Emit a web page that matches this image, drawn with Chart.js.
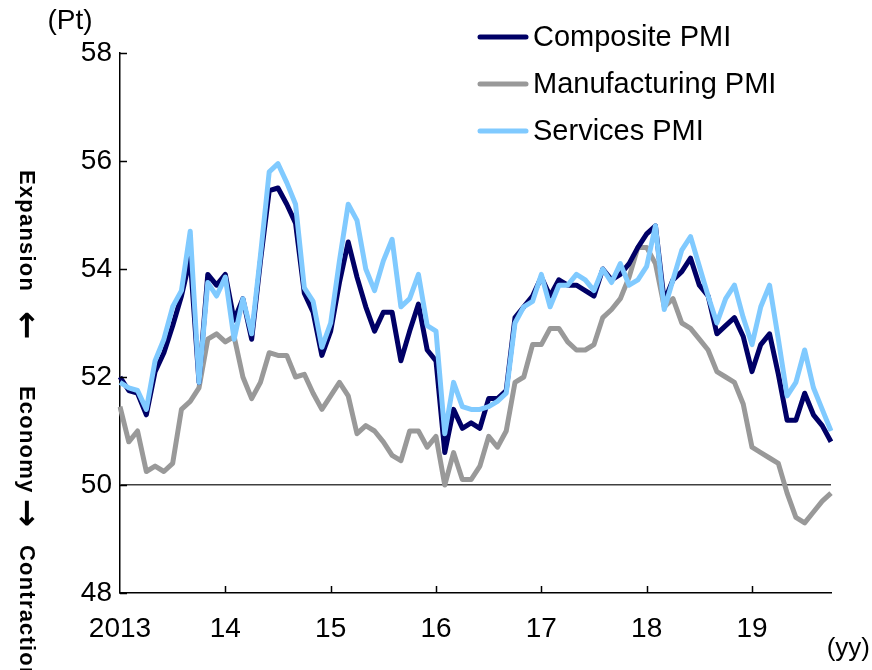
<!DOCTYPE html>
<html>
<head>
<meta charset="utf-8">
<script src="https://cdn.jsdelivr.net/npm/chart.js@4.4.0/dist/chart.umd.min.js"></script>
<style>
  html, body { margin: 0; padding: 0; background: #fff; }
  #wrap { width: 872px; height: 670px; }
</style>
</head>
<body>
<div id="wrap"><canvas id="grafico-pmi" width="872" height="670"></canvas></div>
<script>
// monthly, Jan 2013 .. Oct 2019
const years = ['2013', '14', '15', '16', '17', '18', '19'];
const yTicks = [48, 50, 52, 54, 56, 58];

const composite = [
  52.0, 51.75, 51.7, 51.3, 52.1, 52.45, 52.95, 53.5, 54.2, 51.9, 53.9, 53.7,
  53.9, 53.05, 53.45, 52.7, 54.15, 55.45, 55.5, 55.2, 54.85, 53.55, 53.2, 52.4,
  52.85, 53.75, 54.5, 53.85, 53.3, 52.85, 53.2, 53.2, 52.3, 52.85, 53.35, 52.5,
  52.3, 50.6, 51.4, 51.05, 51.15, 51.05, 51.6, 51.6, 51.75, 53.1, 53.3, 53.5,
  53.85, 53.5, 53.8, 53.7, 53.7, 53.6, 53.5, 54.0, 53.8, 53.9, 54.1, 54.4,
  54.65, 54.8, 53.4, 53.8, 53.95, 54.2, 53.7, 53.5, 52.8, 52.95, 53.1, 52.75,
  52.1, 52.6, 52.8, 52.05, 51.2, 51.2, 51.7, 51.3, 51.1, 50.8
];
const manufacturing = [
  51.45, 50.8, 51.0, 50.25, 50.35, 50.25, 50.4, 51.4, 51.55, 51.8, 52.7, 52.8,
  52.65, 52.75, 52.0, 51.6, 51.9, 52.45, 52.4, 52.4, 52.0, 52.05, 51.7, 51.4,
  51.65, 51.9, 51.65, 50.95, 51.1, 51.0, 50.8, 50.55, 50.45, 51.0, 51.0, 50.7,
  50.9, 50.0, 50.6, 50.1, 50.1, 50.35, 50.9, 50.7, 51.0, 51.9, 52.0, 52.6,
  52.6, 52.9, 52.9, 52.65, 52.5, 52.5, 52.6, 53.1, 53.25, 53.45, 53.85, 54.4,
  54.4, 54.1, 53.3, 53.45, 53.0, 52.9, 52.7, 52.5, 52.1, 52.0, 51.9, 51.5,
  50.7, 50.6, 50.5, 50.4, 49.85, 49.4, 49.3, 49.5, 49.7, 49.85
];
const services = [
  51.9, 51.8, 51.75, 51.4, 52.3, 52.7, 53.3, 53.6, 54.7, 51.9, 53.75, 53.5,
  53.85, 52.7, 53.45, 52.8, 54.25, 55.8, 55.95, 55.6, 55.2, 53.65, 53.4, 52.55,
  53.0, 54.15, 55.2, 54.9, 54.0, 53.6, 54.15, 54.55, 53.3, 53.45, 53.9, 52.95,
  52.85, 50.95, 51.9, 51.45, 51.4, 51.4, 51.45, 51.55, 51.7, 53.0, 53.3, 53.4,
  53.9, 53.3, 53.7, 53.7, 53.9, 53.8, 53.6, 54.0, 53.75, 54.1, 53.7, 53.8,
  54.05, 54.8, 53.25, 53.8, 54.35, 54.6, 54.05, 53.5, 53.0, 53.45, 53.7, 53.1,
  52.6, 53.3, 53.7, 52.7, 51.65, 51.9, 52.5, 51.8, 51.4, 51.0
];

const seriesNames = ['Composite PMI', 'Manufacturing PMI', 'Services PMI'];
const seriesColors = ['#000066', '#999999', '#80caff'];

const months = composite.map((_, i) => (2013 + Math.floor(i / 12)) + '-' + String(i % 12 + 1).padStart(2, '0'));

const FONT = '"Liberation Sans", Arial, sans-serif';

// inner tick marks, legend and side captions
const decor = {
  id: 'decor',
  afterDraw(chart) {
    const { ctx, chartArea: a } = chart;
    const xs = chart.scales.x, ys = chart.scales.y;
    ctx.save();
    ctx.strokeStyle = '#000';
    ctx.lineWidth = 1.5;
    ctx.beginPath();
    yTicks.forEach(v => {
      const py = Math.round(ys.getPixelForValue(v)) + 0.5;
      ctx.moveTo(a.left, py); ctx.lineTo(a.left + 7, py);
    });
    years.forEach((_, k) => {
      if (!k) return;
      const px = Math.round(xs.getPixelForValue(k * 12)) + 0.5;
      ctx.moveTo(px, a.bottom); ctx.lineTo(px, a.bottom - 7);
    });
    ctx.stroke();

    // legend
    ctx.font = '29px ' + FONT;
    ctx.fillStyle = '#000';
    ctx.textBaseline = 'alphabetic';
    ctx.textAlign = 'left';
    ctx.lineCap = 'round';
    ctx.lineWidth = 5;
    seriesNames.forEach((name, k) => {
      const ly = 37 + k * 47;
      ctx.strokeStyle = seriesColors[k];
      ctx.beginPath(); ctx.moveTo(480, ly); ctx.lineTo(526, ly); ctx.stroke();
      ctx.fillText(name, 533, ly + 9);
    });

    // units
    ctx.font = '28px ' + FONT;
    ctx.textAlign = 'center';
    ctx.fillText('(Pt)', 70, 29);
    ctx.font = '26px ' + FONT;
    ctx.textAlign = 'right';
    ctx.fillText('(yy)', 870, 656);

    // rotated caption
    ctx.translate(26, 0);
    ctx.rotate(Math.PI / 2);
    ctx.textBaseline = 'middle';
    ctx.font = 'bold 22px ' + FONT;
    ctx.letterSpacing = '1.2px';
    ctx.textAlign = 'left';
    ctx.fillText('Expansion', 170, 0);
    ctx.fillText('Economy', 386, 0);
    ctx.fillText('Contraction', 545, 0);
    ctx.letterSpacing = '0px';
    ctx.font = 'bold 34px "DejaVu Sans", sans-serif';
    ctx.textAlign = 'center';
    ctx.fillText('\u2190', 325, 1);
    ctx.fillText('\u2192', 513, 1);
    ctx.restore();
  }
};

const ctx = document.getElementById('grafico-pmi');
new Chart(ctx, {
  type: 'line',
  data: {
    labels: months,
    datasets: [
      { label: seriesNames[0], data: composite, borderColor: seriesColors[0], order: 1 },
      { label: seriesNames[1], data: manufacturing, borderColor: seriesColors[1], order: 2 },
      { label: seriesNames[2], data: services, borderColor: seriesColors[2], order: 0 }
    ]
  },
  options: {
    responsive: false,
    animation: false,
    elements: {
      point: { radius: 0 },
      line: { borderWidth: 5, tension: 0, borderJoinStyle: 'round', fill: false }
    },
    layout: { padding: { left: 0, right: 41, top: 53, bottom: 0 } },
    plugins: { legend: { display: false }, tooltip: { enabled: false } },
    scales: {
      x: {
        grid: { display: false, drawTicks: false },
        border: { display: true, color: '#000', width: 1.5 },
        ticks: {
          autoSkip: false, maxRotation: 0, minRotation: 0, padding: 19,
          color: '#000', font: { family: FONT, size: 28 },
          callback: (v, i) => (i % 12 === 0 ? years[i / 12] : null)
        },
        afterFit: s => { s.height = 77; }
      },
      y: {
        min: 48, max: 58,
        grid: {
          drawTicks: false, lineWidth: 1.5,
          color: c => (c.tick && c.tick.value === 50 ? '#404040' : 'rgba(0,0,0,0)')
        },
        border: { display: true, color: '#000', width: 1.5 },
        ticks: { stepSize: 2, padding: 8, color: '#000', font: { family: FONT, size: 28 } },
        afterFit: s => { s.width = 120; }
      }
    }
  },
  plugins: [decor]
});
</script>
</body>
</html>
